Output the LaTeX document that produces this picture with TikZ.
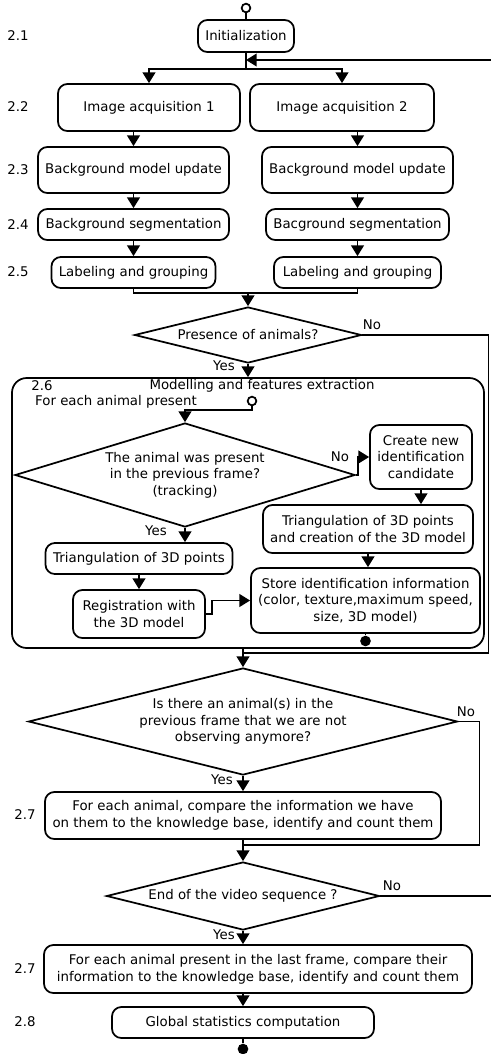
\documentclass[tikz,border=0pt]{standalone}
\usepackage{fontspec}
\setmainfont{DejaVu Sans}
\usetikzlibrary{shapes.geometric,arrows.meta}

\begin{document}
\begin{tikzpicture}[x=0.75pt, y=-0.75pt,
    line width=1.3pt,
    font=\fontsize{10pt}{12.5pt}\selectfont,
    box/.style={draw, rounded corners=7pt, align=center, inner sep=2pt},
    decision/.style={draw, diamond, inner sep=0pt, align=center},
    arr/.style={-{Triangle[width=9.5pt, length=8pt]}},
    startpt/.style={draw, circle, fill=white, minimum size=6.5pt, inner sep=0pt},
    endpt/.style={circle, fill=black, minimum size=8pt, inner sep=0pt}
]
\useasboundingbox (0,0) rectangle (491,1054);

\draw (246,8) node(s1) [startpt] {};
\draw (246,36) node(init) [box, minimum width=72pt, minimum height=24pt] {Initialization};
\draw (18,36) node(l21) {2.1};
\coordinate (split) at (246,69);
\coordinate (loopin) at (491,60);

\draw (149,107.5) node(ia1) [box, minimum width=136.5pt, minimum height=35.25pt] {Image acquisition 1};
\draw (342,107.5) node(ia2) [box, minimum width=138pt, minimum height=35.25pt] {Image acquisition 2};
\draw (18,107) node(l22) {2.2};

\draw (133.5,170) node(bmu1) [box, minimum width=143.25pt, minimum height=34.5pt] {Background model update};
\draw (357.5,170) node(bmu2) [box, minimum width=143.25pt, minimum height=34.5pt] {Background model update};
\draw (18,170) node(l23) {2.3};

\draw (133.5,224.5) node(bs1) [box, minimum width=143.25pt, minimum height=23.25pt] {Background segmentation};
\draw (357.5,224.5) node(bs2) [box, minimum width=137.25pt, minimum height=23.25pt] {Bacground segmentation};
\draw (18,225) node(l24) {2.4};

\draw (133.5,272.5) node(lg1) [box, minimum width=123pt, minimum height=23.25pt] {Labeling and grouping};
\draw (357.5,272.5) node(lg2) [box, minimum width=125.25pt, minimum height=23.25pt] {Labeling and grouping};
\draw (18,272) node(l25) {2.5};
\coordinate (merge) at (248,293);

\draw (248,335) node(d1) [decision, aspect=4, minimum width=170.25pt, minimum height=42pt]
    {Presence of animals?};
\draw (372,325) node(no1) {No};
\draw (224,366) node(yes1) {Yes};

\draw (248,513) node(m26) [draw, rounded corners=11pt,
    minimum width=354pt,
    minimum height=202.5pt
] {};
\draw (42,386) node(l26) {2.6};
\draw (262,386) node(mtitle) {Modelling and features extraction};
\draw (116,402) node(foreach) {For each animal present};
\draw (252,401) node(s2) [startpt] {};

\draw (185,475) node(d2) [decision, aspect=3.27, minimum width=255pt, minimum height=78pt]
    {The animal was present\\ in the previous frame?\\ (tracking)};
\draw (340,457) node(no2) {No};
\draw (156,531) node(yes2) {Yes};

\draw (421,457) node(cnc) [box, minimum width=76.5pt, minimum height=48pt]
    {Create new\\ identification\\ candidate};
\draw (368,529) node(tc) [box, minimum width=157.5pt, minimum height=36pt]
    {Triangulation of 3D points\\ and creation of the 3D model};
\draw (365.5,600.5) node(store) [box, minimum width=171.75pt, minimum height=48.75pt]
    {Store identification information\\ (color, texture,maximum speed,\\ size, 3D model)};
\draw (365.5,641) node(e2) [endpt] {};
\draw (139,558.5) node(t3d) [box, minimum width=140.25pt, minimum height=23.25pt]
    {Triangulation of 3D points};
\draw (139,614) node(reg) [box, minimum width=99pt, minimum height=36pt]
    {Registration with\\ the 3D model};

\coordinate (j3) at (243,653);
\draw (243,721.5) node(d3) [decision, aspect=4, minimum width=321.75pt, minimum height=80.25pt]
    {Is there an animal(s) in the\\ previous frame that we are not\\ observing anymore?};
\draw (466,712) node(no3) {No};
\draw (222,780) node(yes3) {Yes};
\draw (243,815.5) node(b27a) [box, minimum width=297pt, minimum height=35.25pt]
    {For each animal, compare the information we have\\ on them to the knowledge base, identify and count them};
\draw (25,815) node(l27a) {2.7};
\coordinate (j4) at (243,845);

\draw (243,896) node(d4) [decision, aspect=4, minimum width=204.75pt, minimum height=51pt]
    {End of the video sequence ?};
\draw (392,886) node(no4) {No};
\draw (224,935) node(yes4) {Yes};
\coordinate (loopout) at (491,896);
\draw (258,969) node(b27b) [box, minimum width=321pt, minimum height=36pt]
    {For each animal present in the last frame, compare their\\ information to the knowledge base, identify and count them};
\draw (25,969) node(l27b) {2.7};
\draw (243,1022.5) node(b28) [box, minimum width=196.5pt, minimum height=23.25pt]
    {Global statistics computation};
\draw (25,1022) node(l28) {2.8};
\draw (243,1049) node(e3) [endpt] {};

\draw (s1) -- (init);
\draw (init.south) -- (split);
\draw [arr] (loopin) -- (init.south |- loopin);
\draw [arr] (split) -| (ia1.north);
\draw [arr] (split) -| (ia2.north);
\draw [arr] (bmu1.north |- ia1.south) -- (bmu1.north);
\draw [arr] (bmu2.north |- ia2.south) -- (bmu2.north);
\draw [arr] (bmu1) -- (bs1);
\draw [arr] (bmu2) -- (bs2);
\draw [arr] (bs1) -- (lg1);
\draw [arr] (bs2) -- (lg2);
\draw (lg1.south) |- (merge) -| (lg2.south);
\draw [arr] (merge) -- (d1.north);
\draw [arr] (d1.south) -- (m26.north);
\draw (d1.east) -- ++(126,0) |- (j3);

\draw [arr] (s2.south) -- ++(0,4) -| (d2.north);
\draw [arr] (d2.east) -- ++(2,0) |- (cnc.west);
\draw [arr] (cnc.south) -- (cnc.south |- tc.north);
\draw [arr] (tc.south) -- (tc.south |- store.north);
\draw [arr] (d2.south) -- (d2.south |- t3d.north);
\draw [arr] (t3d) -- (reg);
\draw [arr] (reg.east) -- ++(6,0) |- (store.west);
\draw (store.south) -- (e2);

\draw [arr] (m26.south -| j3) -- (d3.north);
\draw (d3.east) -- ++(21,0) |- (j4);
\draw [arr] (d3.south) -- (b27a.north);
\draw [arr] (b27a.south) -- (d4.north);
\draw (d4.east) -- (loopout);
\draw [arr] (d4.south) -- (d4.south |- b27b.north);
\draw [arr] (b28.north |- b27b.south) -- (b28.north);
\draw (b28.south) -- (e3);
\end{tikzpicture}
\end{document}
